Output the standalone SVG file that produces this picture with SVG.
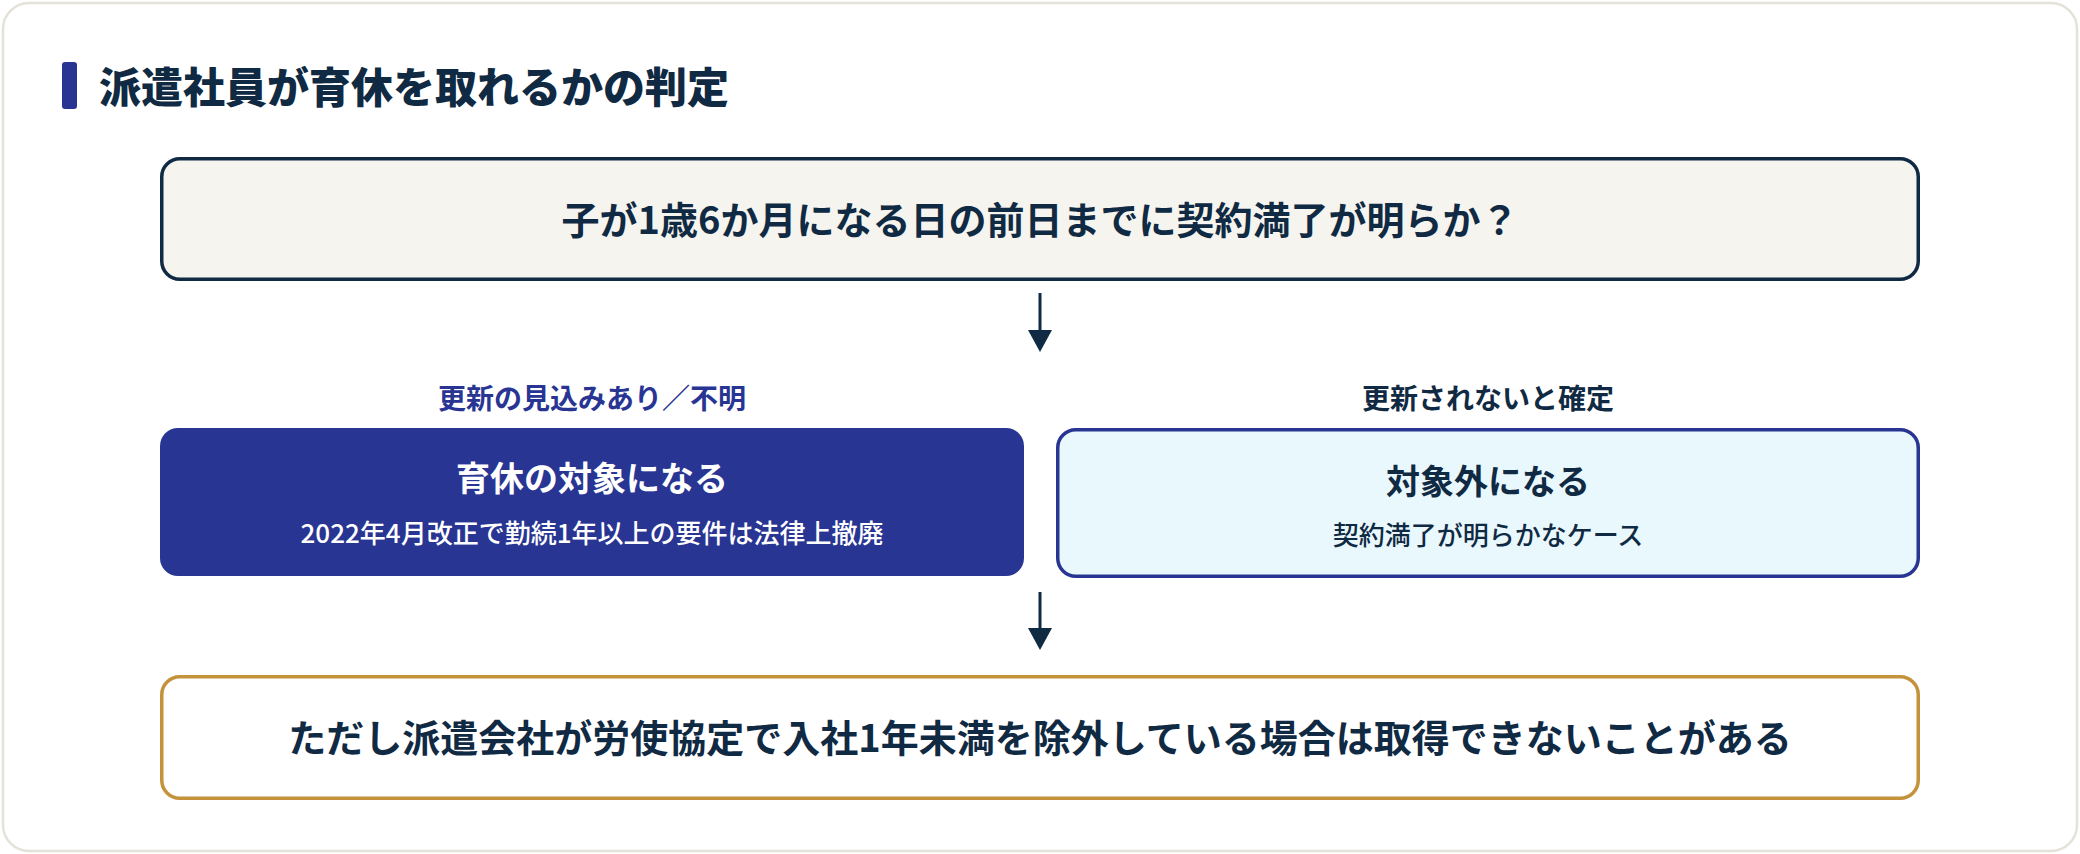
<svg xmlns="http://www.w3.org/2000/svg" width="2080" height="854" viewBox="0 0 2080 854">
  <defs>
    <style>
      text { font-family: "Noto Sans CJK JP", "Noto Sans", sans-serif; text-anchor: middle; }
      .dark { fill: #102a43; }
      .q { font-size: 38px; font-weight: 700; fill: #102a43; }
      .lbl { font-size: 28px; font-weight: 700; }
      .ttl { font-size: 34px; font-weight: 700; }
      .sub { font-size: 26px; font-weight: 500; }
      .conn { stroke: #102a43; stroke-width: 3; fill: none; }
      .head { fill: #102a43; }
    </style>
  </defs>
  <rect x="0" y="0" width="2080" height="854" fill="#ffffff"/>
  <rect id="card" x="3" y="3" width="2074" height="848" rx="26" ry="26" fill="#ffffff" stroke="#e4e2d8" stroke-width="2.5"/>

  <g id="title">
    <rect x="62" y="62" width="15" height="47" rx="3" fill="#283593"/>
    <text x="99" y="103" style="text-anchor:start; font-size:42px; font-weight:900;" class="dark">派遣社員が育休を取れるかの判定</text>
  </g>

  <g id="question">
    <rect x="161.75" y="158.75" width="1756.5" height="120.5" rx="18" fill="#f5f4ef" stroke="#102a43" stroke-width="3.5"/>
    <text x="1040" y="234" class="q">子が1歳6か月になる日の前日までに契約満了が明らか？</text>
  </g>

  <g id="label-left">
    <text x="592" y="409" class="lbl" fill="#283593">更新の見込みあり／不明</text>
  </g>
  <g id="label-right">
    <text x="1488" y="409" class="lbl dark">更新されないと確定</text>
  </g>

  <g id="eligible">
    <rect x="160" y="428" width="864" height="148" rx="18" fill="#283593"/>
    <text x="592" y="491" class="ttl" fill="#ffffff">育休の対象になる</text>
    <text x="592" y="543" class="sub" fill="#ffffff">2022年4月改正で勤続1年以上の要件は法律上撤廃</text>
  </g>

  <g id="not-eligible">
    <rect x="1057.75" y="429.75" width="860.5" height="146.5" rx="18" fill="#e9f8fd" stroke="#283593" stroke-width="3.5"/>
    <text x="1488" y="494" class="ttl dark">対象外になる</text>
    <text x="1488" y="545" class="sub dark">契約満了が明らかなケース</text>
  </g>

  <g id="caveat">
    <rect x="161.75" y="676.75" width="1756.5" height="121.5" rx="18" fill="#ffffff" stroke="#c4923a" stroke-width="3.5"/>
    <text x="1040" y="752" class="q">ただし派遣会社が労使協定で入社1年未満を除外している場合は取得できないことがある</text>
  </g>

  <g id="connectors">
    <line x1="1040" y1="293" x2="1040" y2="332" class="conn"/>
    <polygon points="1028,330 1052,330 1040,352" class="head"/>
    <line x1="1040" y1="592" x2="1040" y2="630" class="conn"/>
    <polygon points="1028,628 1052,628 1040,650" class="head"/>
  </g>
</svg>
